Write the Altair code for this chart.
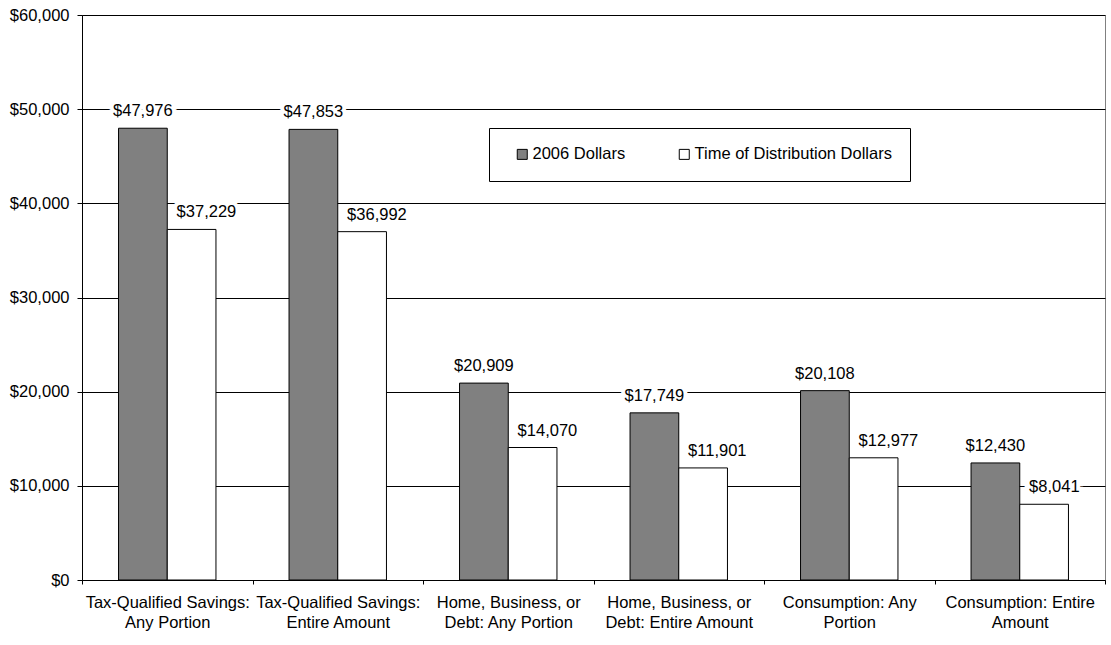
import altair as alt
import pandas as pd

categories = [
    "Tax-Qualified Savings:|Any Portion",
    "Tax-Qualified Savings:|Entire Amount",
    "Home, Business, or|Debt: Any Portion",
    "Home, Business, or|Debt: Entire Amount",
    "Consumption: Any|Portion",
    "Consumption: Entire|Amount",
]
series = ["2006 Dollars", "Time of Distribution Dollars"]
dollars_2006 = [47976, 47853, 20909, 17749, 20108, 12430]
dollars_dist = [37229, 36992, 14070, 11901, 12977, 8041]
y_ticks = [0, 10000, 20000, 30000, 40000, 50000, 60000]

rows = []
for c, a, b in zip(categories, dollars_2006, dollars_dist):
    rows.append({"category": c, "series": series[0], "value": a})
    rows.append({"category": c, "series": series[1], "value": b})
df = pd.DataFrame(rows)

FONT = "Liberation Sans"
FS = 16.5

x_enc = alt.X(
    "category:N",
    sort=categories,
    title=None,
    scale=alt.Scale(paddingInner=0, paddingOuter=0),
    axis=alt.Axis(
        labelAngle=0,
        tickBand="extent",
        labelExpr="split(datum.label, '|')",
        labelLineHeight=20.5,
        labelFontSize=FS,
        labelColor="black",
        labelPadding=10,
        tickSize=4,
        tickColor="black",
        domainColor="black",
        labelLimit=300,
    ),
)
xoff = alt.XOffset("series:N", sort=series, scale=alt.Scale(paddingInner=0, paddingOuter=0.75))
y_enc = alt.Y(
    "value:Q",
    title=None,
    scale=alt.Scale(domain=[0, 60000], nice=False),
    axis=alt.Axis(
        values=y_ticks,
        format="$,.0f",
        labelFontSize=FS,
        labelColor="black",
        labelPadding=8,
        tickSize=5,
        tickColor="black",
        domainColor="black",
        gridColor="black",
        gridWidth=1,
    ),
)

bars = alt.Chart(df).mark_bar(stroke="black", strokeWidth=1).encode(
    x=x_enc,
    xOffset=xoff,
    y=y_enc,
    color=alt.Color(
        "series:N",
        sort=series,
        scale=alt.Scale(domain=series, range=["#808080", "#ffffff"]),
        legend=alt.Legend(
            title=None,
            orient="none",
            legendX=407,
            legendY=113,
            direction="horizontal",
            symbolType="square",
            symbolSize=100,
            symbolStrokeColor="black",
            symbolStrokeWidth=1,
            symbolOffset=7,
            labelFontSize=16.5,
            labelColor="black",
            labelOffset=2,
            columnPadding=43,
            padding=18,
            strokeColor="black",
            fillColor="white",
            labelLimit=400,
        ),
    ),
)

base_x = alt.X("category:N", sort=categories)
txt = alt.Text("value:Q", format="$,.0f")


def label_layers(name, align, dx):
    common = dict(baseline="alphabetic", dy=-12, dx=dx, align=align, fontSize=FS)
    src = alt.Chart(df).transform_filter(alt.datum.series == name)
    halo = src.mark_text(stroke="white", strokeWidth=8, color="white", **common).encode(
        x=base_x, xOffset=xoff, y="value:Q", text=txt)
    lab = src.mark_text(color="black", **common).encode(
        x=base_x, xOffset=xoff, y="value:Q", text=txt)
    return [halo, lab]


layers = [bars] + label_layers(series[0], "center", 0) + label_layers(series[1], "left", -15)

chart = alt.layer(*layers).properties(
    width=1023,
    height=565,
    autosize=alt.AutoSizeParams(type="none"),
    padding={"left": 82, "top": 15, "right": 6, "bottom": 65},
).configure(font=FONT).configure_view(stroke="#808080", strokeWidth=1)

chart.save("out.html", embed_options={"renderer": "svg", "actions": False})
